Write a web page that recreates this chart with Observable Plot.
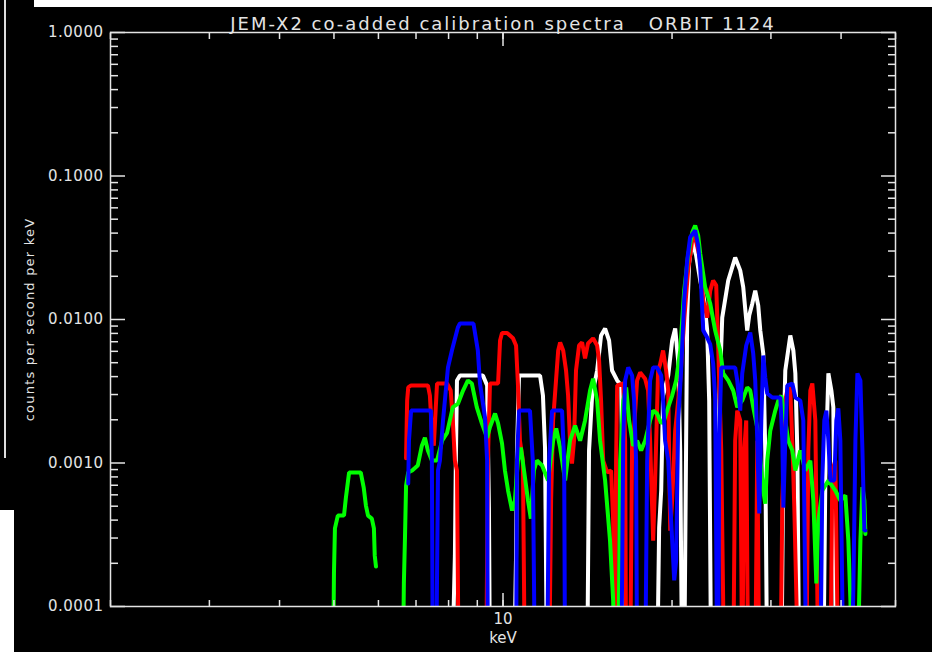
<!DOCTYPE html>
<html><head><meta charset="utf-8">
<script src="https://cdn.jsdelivr.net/npm/d3@7"></script>
<script src="https://cdn.jsdelivr.net/npm/@observablehq/plot@0.6"></script>
<style>
html,body{margin:0;padding:0;background:#000;width:932px;height:652px;overflow:hidden;position:relative}
#chart{position:absolute;left:0;top:0}
.strip-top{position:absolute;left:34px;top:0;width:898px;height:7px;background:#fff}
.strip-left{position:absolute;left:0;top:510px;width:14px;height:142px;background:#fff}
.edge{position:absolute;left:4px;top:0;width:2px;height:458px;background:#ddd}
</style></head><body>
<div id="chart"></div>
<div class="strip-top"></div>
<div class="strip-left"></div>
<div class="edge"></div>
<script>
const title = "JEM-X2 co-added calibration spectra\u00a0\u00a0\u00a0ORBIT 1124";
const xLabel = "keV";
const yLabel = "counts per second per keV";
const xLabeledTicks = [10];
const xAllTicks = [2,3,4,5,6,7,8,9,10,20,30,40,50];
const yMajorTicks = [0.0001,0.001,0.01,0.1,1];

// counts below the axis floor are read as 3e-5 (off the plot)
const whiteKeV = [8.11,8.21,8.24,8.28,8.38,9.21,9.37,9.40,9.44,9.48,10.46,10.55,10.59,10.68,11.64,11.78,11.88,11.98,14.12,14.23,14.41,14.71,14.95,15.20,15.45,15.64,15.97,16.24,16.30,16.37,16.50,18.81,18.97,19.13,19.28,19.69,20.01,20.26,20.51,20.68,20.85,21.02,21.19,21.28,21.45,21.72,22.08,22.45,22.82,23.10,23.29,23.48,24.07,24.27,24.57,25.18,25.91,26.45,26.78,27.22,27.45,27.79,28.13,28.48,28.72,29.07,29.31,29.55,31.31,31.57,31.82,32.48,32.89,33.16,33.43,33.70,37.19,37.50,37.97,38.44,38.75,39.07,39.23,44.19];
const whiteCts = [3e-5,0.000227,0.00096,0.00376,0.00407,0.00407,0.00347,0.00143,0.00049,3e-5,3e-5,0.000227,0.00122,0.00407,0.00407,0.00295,0.00128,3e-5,3e-5,0.00122,0.00295,0.00441,0.00774,0.00865,0.00714,0.00441,0.00376,0.00347,0.00104,0.000209,3e-5,3e-5,0.000355,0.000643,0.00295,0.00407,0.00714,0.00865,0.00518,0.00122,3e-5,3e-5,0.00143,0.0103,0.0246,0.0355,0.0279,0.0187,0.0136,0.00838,0.00272,3e-5,3e-5,0.00272,0.0103,0.0187,0.0270,0.0220,0.0168,0.00838,0.0107,0.0129,0.0159,0.0125,0.00838,0.0058,0.00122,3e-5,3e-5,0.00122,0.00441,0.00774,0.00608,0.00421,0.00122,3e-5,3e-5,0.000795,0.00421,0.0032,0.00245,0.00011,3e-5,3e-5];

const redKeV = [6.72,6.75,6.78,6.86,7.35,7.41,7.47,7.53,7.57,7.63,7.95,8.07,8.14,8.21,8.28,8.34,9.33,9.40,9.48,9.80,9.88,9.96,10.17,10.42,10.55,10.63,10.72,10.85,10.94,12.08,12.18,12.28,12.38,12.54,12.64,12.80,12.95,13.06,13.16,13.27,13.38,13.49,13.66,13.83,14.00,14.17,14.47,14.71,14.83,14.95,15.08,15.33,15.58,15.71,15.84,15.90,15.97,16.37,16.50,16.57,16.84,16.98,17.12,17.33,17.55,17.91,18.13,18.28,18.51,18.66,18.89,19.05,19.28,19.52,19.69,19.85,20.01,20.26,20.68,21.02,21.36,21.72,21.99,22.26,22.45,22.73,23.10,23.39,23.67,23.97,24.17,24.47,24.77,25.70,25.91,26.13,26.45,26.67,26.89,27.11,27.33,28.13,28.37,28.60,31.18,31.44,31.82,32.21,32.48,32.75,33.02,33.57,34.68,34.97,35.26,35.55,35.99,36.44,38.28,38.59,39.07,39.55];
const redCts = [0.00108,0.00272,0.00336,0.00347,0.00347,0.00295,0.00168,0.00132,0.00198,0.00358,0.00358,0.0032,0.00198,0.00104,0.000887,3e-5,3e-5,0.00104,0.00358,0.00358,0.00714,0.00804,0.00804,0.00739,0.00659,0.00358,0.00143,0.00104,3e-5,3e-5,0.000548,0.00198,0.00305,0.00608,0.00692,0.00608,0.00441,0.00295,0.00143,0.00099,0.00143,0.00441,0.00659,0.00692,0.00535,0.00681,0.00739,0.00659,0.00518,0.00272,0.00104,0.00086,0.000887,0.000397,3e-5,0.00104,0.00347,0.00358,0.00143,3e-5,3e-5,0.00143,0.00176,0.00376,0.00427,0.00387,0.0032,0.00143,0.000288,0.000755,0.00441,0.00489,0.00608,0.00441,0.0032,0.000338,0.000548,0.00168,0.00376,0.00984,0.022,0.0355,0.0374,0.0303,0.0258,0.0136,0.0103,0.0159,0.0187,0.0173,0.00635,0.00122,3e-5,3e-5,0.00143,0.00232,0.00198,3e-5,0.00122,0.00198,3e-5,3e-5,0.00143,3e-5,3e-5,0.000548,0.00272,0.00347,0.0032,0.00143,0.000489,3e-5,3e-5,0.00122,0.0032,0.00358,0.00198,3e-5,3e-5,0.000887,0.00104,3e-5];

const blueKeV = [6.78,6.80,6.86,7.44,7.47,7.50,7.60,7.63,7.66,7.72,7.82,7.98,8.11,8.31,8.38,8.86,9.02,9.10,9.29,9.37,9.40,10.55,10.59,10.68,11.17,11.30,11.40,11.98,12.08,12.23,12.74,12.85,12.90,16.24,16.37,16.50,16.71,16.98,17.12,17.26,17.33,17.91,18.06,18.28,18.51,18.81,19.13,19.28,19.44,19.69,19.93,20.18,20.34,20.51,20.76,21.02,21.28,21.54,21.99,22.26,22.45,22.73,23.10,23.39,23.67,23.87,24.07,24.17,24.27,24.47,25.91,26.13,26.45,26.67,27.11,27.56,27.90,28.13,28.37,28.60,28.84,29.07,29.31,29.55,30.17,31.18,31.44,31.57,31.82,32.08,32.75,33.16,33.84,34.26,34.68,36.74,37.04,37.34,37.66,37.97,38.28,38.91,39.23,39.55,39.88,40.38,41.73,42.07,42.42,42.77,43.30,43.66,44.01,44.19];
const blueCts = [0.00072,0.00143,0.00232,0.00232,0.00104,3e-5,3e-5,0.00016,0.000887,0.00104,0.00198,0.00463,0.00608,0.0088,0.00938,0.00938,0.00608,0.00358,0.00207,0.00104,3e-5,3e-5,0.00104,0.00232,0.00232,0.00104,3e-5,3e-5,0.00104,0.00232,0.00232,0.00104,3e-5,3e-5,0.00143,0.00376,0.00463,0.00407,0.00272,0.00104,3e-5,3e-5,0.00104,0.00376,0.00463,0.00463,0.00407,0.00272,0.00143,0.00104,0.000397,0.000152,0.000209,0.00198,0.00441,0.0136,0.0258,0.0374,0.0417,0.0328,0.0230,0.00838,0.00748,0.00672,0.00496,0.00286,3e-5,3e-5,0.00143,0.00463,0.00463,0.00376,0.00232,0.00421,0.00659,0.00812,0.00579,0.00376,0.00143,0.000445,0.00198,0.00561,0.00394,0.00305,0.00286,0.00286,0.00143,0.000489,0.00143,0.00347,0.00358,0.00286,0.00272,0.00198,3e-5,3e-5,0.00078,0.00198,0.00232,0.00143,0.000755,0.000755,0.00198,0.0024,0.00143,3e-5,3e-5,0.000135,0.00143,0.00421,0.00376,0.00122,0.000338,0.000338];

const greenLowKeV = [4.98,5.00,5.02,5.08,5.21,5.25,5.32,5.58,5.65,5.70,5.75,5.84,5.89,5.91,5.94];
const greenLowCts = [3e-5,0.00017,0.00035,0.00043,0.00043,0.00057,0.00086,0.00086,0.00067,0.000505,0.00043,0.00041,0.00035,0.000227,0.00019];

const greenKeV = [6.63,6.66,6.69,6.72,6.78,6.89,7.05,7.17,7.26,7.35,7.47,7.63,7.79,7.95,8.14,8.31,8.49,8.66,8.80,8.98,9.17,9.37,9.48,9.68,9.80,9.96,10.08,10.21,10.38,10.50,10.63,10.76,10.90,11.08,11.21,11.35,11.49,11.74,12.03,12.28,12.44,12.64,12.90,13.16,13.44,13.72,14.00,14.29,14.47,14.71,14.89,15.20,15.51,15.71,15.84,16.04,16.17,16.37,16.57,16.77,17.05,17.33,17.62,17.91,18.28,18.51,18.81,19.13,19.36,19.69,20.01,20.34,20.68,21.02,21.36,21.72,21.99,22.26,22.45,22.91,23.39,23.87,24.37,24.67,25.18,25.70,26.13,26.67,27.22,27.56,27.90,28.37,28.72,29.07,29.31,29.55,29.92,30.54,30.92,31.31,31.82,32.21,32.75,33.16,33.84,34.54,35.26,35.70,36.14,36.44,37.04,37.97,39.07,39.88,40.71,41.21,41.56,41.90,42.77,43.30,43.66,44.01,44.19];
const greenCts = [3e-5,0.000145,0.0003,0.000697,0.00086,0.000887,0.00096,0.00132,0.0015,0.00122,0.00104,0.00104,0.00143,0.00162,0.00245,0.00258,0.0032,0.00376,0.00358,0.00245,0.00189,0.0015,0.00178,0.00221,0.00189,0.00137,0.000887,0.000643,0.000466,0.000548,0.00104,0.00128,0.000887,0.000548,0.00041,0.000887,0.00104,0.00096,0.000755,0.00143,0.00174,0.00128,0.000755,0.00143,0.00182,0.00143,0.00198,0.0032,0.00387,0.00272,0.00143,0.000755,0.000288,0.00011,3e-5,3e-5,0.00104,0.00272,0.00336,0.00198,0.00132,0.00143,0.00122,0.00143,0.00198,0.00232,0.00221,0.00189,0.00198,0.00245,0.00295,0.00376,0.00608,0.0159,0.0279,0.0403,0.0452,0.0385,0.0288,0.0168,0.0129,0.00838,0.00608,0.00421,0.00376,0.0032,0.00245,0.00272,0.00336,0.0032,0.00245,0.00176,0.00109,0.000643,0.00052,0.00104,0.00168,0.00232,0.00272,0.00295,0.00198,0.00143,0.00122,0.000887,0.00122,0.000887,0.00104,0.000548,0.000145,0.000397,0.000643,0.000755,0.000643,0.000548,0.000594,0.000288,0.00011,3e-5,3e-5,0.000288,0.00068,0.000548,0.00032];

const zip = (ks, cs) => ks.map((k, i) => ({keV: k, counts: cs[i]}));
const series = [
  {data: zip(whiteKeV, whiteCts), color: "#ffffff"},
  {data: zip(redKeV, redCts), color: "#ff0000"},
  {data: zip(greenLowKeV, greenLowCts), color: "#00ff00"},
  {data: zip(greenKeV, greenCts), color: "#00ff00"},
  {data: zip(blueKeV, blueCts), color: "#0000ff"}
];

// minor log ticks (axis decoration only)
const yMinorTicks = [];
for (const d of [0.0001,0.001,0.01,0.1]) for (let m = 2; m <= 9; m++) yMinorTicks.push(+(d*m).toPrecision(3));

const fg = "#e4e4e4";
const font = "'DejaVu Sans', sans-serif";
const tick = {tickFormat: () => "", stroke: fg, strokeWidth: 1.5, label: null};

const chart = Plot.plot({
  width: 932, height: 652,
  marginLeft: 110, marginRight: 37, marginTop: 32, marginBottom: 46,
  style: {background: "#000", color: fg, fontFamily: font, fontSize: "15px"},
  x: {type: "log", domain: [2, 50], label: null},
  y: {type: "log", domain: [0.0001, 1], label: null},
  marks: [
    ...series.map(s => Plot.line(s.data, {x: "keV", y: "counts", stroke: s.color, strokeWidth: 4, clip: true, strokeLinejoin: "miter"})),
    Plot.frame({stroke: fg, strokeWidth: 1.5}),
    Plot.axisY(yMajorTicks, {anchor: "left", tickSize: -15, ...tick}),
    Plot.axisY(yMinorTicks, {anchor: "left", tickSize: -8, ...tick}),
    Plot.axisY(yMajorTicks, {anchor: "right", tickSize: -15, ...tick}),
    Plot.axisY(yMinorTicks, {anchor: "right", tickSize: -8, ...tick}),
    Plot.axisY(yMajorTicks, {anchor: "left", tickSize: 0, tickPadding: 7, tickFormat: d => d.toFixed(4), fill: fg, fontSize: 15, label: null}),
    Plot.axisX(xAllTicks, {anchor: "bottom", tickSize: -6, ...tick}),
    Plot.axisX(xLabeledTicks, {anchor: "bottom", tickSize: -13, ...tick}),
    Plot.axisX(xAllTicks, {anchor: "top", tickSize: -6, ...tick}),
    Plot.axisX(xLabeledTicks, {anchor: "top", tickSize: -13, ...tick}),
    Plot.axisX(xLabeledTicks, {anchor: "bottom", tickSize: 0, tickPadding: 7, tickFormat: d => String(d), fill: fg, fontSize: 15, label: null}),
    Plot.text([xLabel], {frameAnchor: "bottom", dy: 32, fill: fg, fontSize: 15, lineAnchor: "middle"}),
    Plot.text([yLabel], {frameAnchor: "left", dx: -81, rotate: -90, textAnchor: "middle", fill: fg, fontSize: 13}),
    Plot.text([title], {frameAnchor: "top", dy: -15, fill: fg, fontSize: 18})
  ]
});
// wide vector-font look: extra letter spacing on the texts
d3.select(chart).selectAll("text").each(function() {
  const t = this.textContent;
  if (t === title) this.setAttribute("letter-spacing", "2");
  else if (t === yLabel) this.setAttribute("letter-spacing", "1.2");
  else if (/^\d\.\d{4}$/.test(t)) this.setAttribute("letter-spacing", "0.5");
});
document.getElementById("chart").appendChild(chart);
</script>
</body></html>
